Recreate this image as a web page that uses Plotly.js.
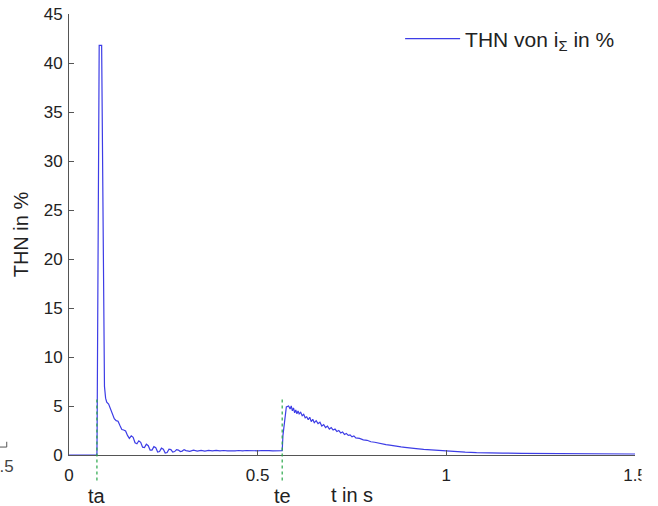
<!DOCTYPE html>
<html>
<head>
<meta charset="utf-8">
<script src="https://cdn.plot.ly/plotly-3.0.1.min.js"></script>
<style>html,body{margin:0;padding:0;background:#fff;}#chart{width:658px;height:506px;}</style>
</head>
<body>
<div id="chart"></div>
<script>
// time in s
const tValues = [
  0, 0.074, 0.0745, 0.077, 0.080, 0.0865, 0.090, 0.094, 0.097,
  0.100, 0.105, 0.110, 0.115, 0.120, 0.125, 0.130, 0.135, 0.140, 0.145,
  0.150, 0.155, 0.160, 0.165, 0.170, 0.175, 0.180, 0.185, 0.190, 0.195,
  0.200, 0.205, 0.210, 0.215, 0.220, 0.225, 0.230, 0.235, 0.240, 0.245,
  0.250, 0.255, 0.260, 0.265, 0.270, 0.275, 0.280, 0.285, 0.290, 0.295,
  0.300, 0.305, 0.310, 0.320, 0.330, 0.340, 0.350, 0.360, 0.370, 0.380,
  0.390, 0.400, 0.410, 0.420, 0.430, 0.440, 0.450, 0.460, 0.470, 0.480,
  0.490, 0.500, 0.510, 0.520, 0.530, 0.540, 0.550, 0.560, 0.565,
  0.567, 0.570, 0.576, 0.582, 0.586, 0.589, 0.592, 0.595, 0.598, 0.601,
  0.604, 0.607, 0.610, 0.614, 0.618, 0.622, 0.626, 0.630, 0.634, 0.638,
  0.642, 0.646, 0.650, 0.655, 0.660, 0.665, 0.670, 0.675, 0.680, 0.685,
  0.690, 0.695, 0.700, 0.705, 0.710, 0.715, 0.720, 0.725, 0.730, 0.735,
  0.740, 0.745, 0.750, 0.755, 0.760, 0.770, 0.780, 0.790, 0.800, 0.810,
  0.820, 0.830, 0.840, 0.850, 0.860, 0.870, 0.880, 0.890, 0.900, 0.920,
  0.940, 0.960, 0.980, 1.000, 1.020, 1.050, 1.080, 1.100, 1.150, 1.200,
  1.250, 1.300, 1.350, 1.400, 1.450, 1.500
];
// THN of i_sum in %
const thnValues = [
  0, 0, 2.5, 20, 41.8, 41.8, 20, 7, 5.8,
  5.4, 5.2, 4.7, 4.2, 3.7, 3.5, 3.45, 3.0, 2.6, 2.55,
  2.45, 2.0, 1.7, 1.95, 1.8, 1.25, 1.15, 1.45, 1.3, 0.8,
  0.75, 1.1, 0.95, 0.5, 0.5, 0.85, 0.75, 0.3, 0.35, 0.7,
  0.6, 0.2, 0.25, 0.6, 0.55, 0.3, 0.35, 0.55, 0.5, 0.35,
  0.4, 0.55, 0.45, 0.38, 0.5, 0.4, 0.48, 0.4, 0.47, 0.42,
  0.47, 0.42, 0.46, 0.42, 0.46, 0.43, 0.46, 0.42, 0.46, 0.43,
  0.46, 0.43, 0.46, 0.42, 0.45, 0.42, 0.45, 0.43, 0.44,
  2.0, 3.0, 4.9, 5.0, 4.7, 5.0, 4.5, 4.8, 4.3, 4.6,
  4.2, 4.5, 4.2, 4.35, 4.0, 4.15, 3.8, 3.9, 3.6, 3.85,
  3.4, 3.65, 3.3, 3.5, 3.2, 3.35, 2.95, 3.1, 2.8, 2.95,
  2.65, 2.8, 2.55, 2.65, 2.4, 2.5, 2.25, 2.35, 2.1, 2.2,
  2.0, 2.05, 1.85, 1.95, 1.75, 1.7, 1.55, 1.5, 1.35, 1.3,
  1.2, 1.15, 1.05, 1.0, 0.92, 0.88, 0.82, 0.78, 0.72, 0.65,
  0.58, 0.52, 0.45, 0.4, 0.35, 0.3, 0.25, 0.22, 0.2, 0.17,
  0.15, 0.13, 0.12, 0.1, 0.1, 0.1
];
// event markers
const eventNames = ['ta', 'te'];
const eventTimes = [0.074, 0.565];
const eventTop = 5.7;     // THN value where the dotted marker ends
const eventBottom = -2.6; // below the axis
const xTicks = [0, 0.5, 1, 1.5];
const xTickText = ['0', '0.5', '1', '1.5'];
const yTicks = [0, 5, 10, 15, 20, 25, 30, 35, 40, 45];
const xRange = [0, 1.5];
const yRange = [0, 45];
const strayLabel = '1.5'; // cut-off label of the neighbouring figure at the left edge

const FONT = 'Liberation Sans, Arial, Helvetica, sans-serif';
const toPaperY = v => (v - yRange[0]) / (yRange[1] - yRange[0]);

const shapes = eventTimes.map(t => ({
  type: 'line', xref: 'x', yref: 'paper',
  x0: t, x1: t, y0: toPaperY(eventBottom), y1: toPaperY(eventTop),
  line: {color: '#2aa84a', width: 1.2, dash: 'dot'}, layer: 'above'
}));
// crop of the right edge (the reference cuts the last tick label)
shapes.push({type: 'rect', xref: 'paper', yref: 'paper', x0: 1.0115, x1: 1.06, y0: -0.12, y1: -0.01,
  fillcolor: '#fff', line: {width: 0}, layer: 'above'});
// small corner of the neighbouring figure at the left edge
shapes.push({type: 'path', xref: 'paper', yref: 'paper',
  path: 'M -0.122 0.018 L -0.110 0.018 L -0.110 0.030', line: {color: '#555', width: 1}});

const annotations = eventTimes.map((t, i) => ({
  x: t, xref: 'x', y: -0.063, yref: 'paper', yanchor: 'top',
  text: eventNames[i], showarrow: false,
  font: {family: FONT, size: 20, color: '#222'}
}));
annotations.push({x: -0.094, xref: 'paper', xanchor: 'right', y: 0.0, yref: 'paper', yanchor: 'top',
  text: strayLabel, showarrow: false, font: {family: FONT, size: 17, color: '#444'}});

const trace = {
  x: tValues, y: thnValues, type: 'scatter', mode: 'lines',
  name: 'THN von i<sub>Σ</sub> in %',
  line: {color: '#3d3de6', width: 1.2}
};

const layout = {
  width: 658, height: 506,
  margin: {l: 69, r: 23, t: 14, b: 51},
  paper_bgcolor: '#fff', plot_bgcolor: '#fff',
  font: {family: FONT, size: 17, color: '#222'},
  showlegend: true,
  legend: {x: 0.585, y: 0.99, xanchor: 'left', yanchor: 'top', itemwidth: 55,
           bgcolor: 'rgba(0,0,0,0)', font: {family: FONT, size: 21, color: '#222'}},
  xaxis: {
    range: xRange, tickvals: xTicks, ticktext: xTickText,
    ticks: 'inside', ticklen: 5, tickcolor: '#555', tickwidth: 1,
    showline: true, linecolor: '#555', linewidth: 1,
    showgrid: false, zeroline: false,
    tickfont: {family: FONT, size: 17, color: '#222'},
    ticklabelstandoff: 5,
    title: {text: 't in s', font: {family: FONT, size: 20, color: '#222'}, standoff: 8}
  },
  yaxis: {
    range: yRange, tickvals: yTicks,
    ticks: 'inside', ticklen: 5, tickcolor: '#555', tickwidth: 1,
    showline: true, linecolor: '#555', linewidth: 1,
    showgrid: false, zeroline: false,
    tickfont: {family: FONT, size: 17, color: '#222'},
    ticklabelstandoff: 2,
    title: {text: 'THN in %', font: {family: FONT, size: 20, color: '#222'}, standoff: 9}
  },
  shapes: shapes,
  annotations: annotations
};

Plotly.newPlot('chart', [trace], layout, {displayModeBar: false, staticPlot: true});
</script>
</body>
</html>
